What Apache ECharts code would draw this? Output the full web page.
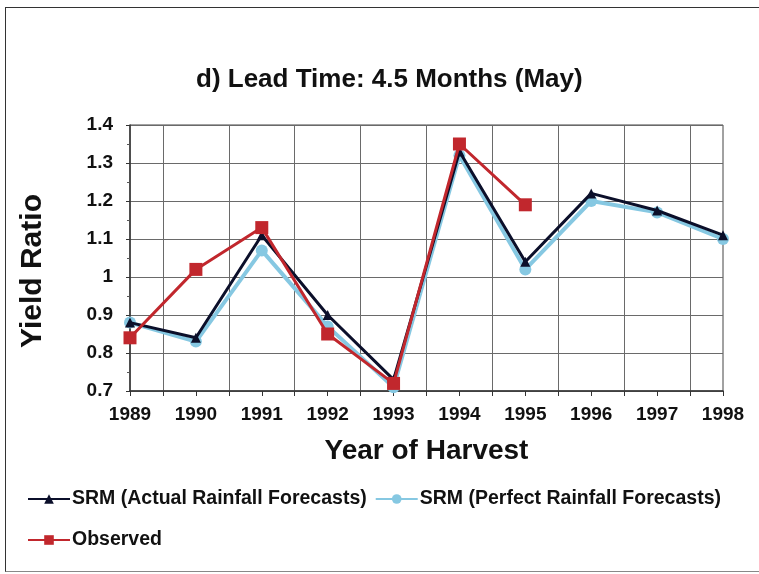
<!DOCTYPE html>
<html>
<head>
<meta charset="utf-8">
<script src="https://cdn.jsdelivr.net/npm/echarts@6/dist/echarts.min.js"></script>
<style>
  html, body { margin: 0; padding: 0; background: #fff; }
  #chart { width: 759px; height: 574px; }
  /* page frame: left, top and bottom rules only */
  #frame { position: absolute; left: 5px; top: 7px; width: 760px; height: 565px;
           border-left: 1px solid #333; border-top: 1px solid #333; border-bottom: 1px solid #888;
           box-sizing: border-box; pointer-events: none; }
</style>
</head>
<body>
<div id="chart"></div>
<div id="frame"></div>
<script>
// Harvest years and yield ratios
const years = [1989, 1990, 1991, 1992, 1993, 1994, 1995, 1996, 1997, 1998];
const srmActual = [0.88, 0.84, 1.11, 0.90, 0.73, 1.33, 1.04, 1.22, 1.175, 1.11];
const srmPerfect = [0.88, 0.83, 1.07, 0.87, 0.71, 1.32, 1.02, 1.20, 1.17, 1.10];
const observed = [0.84, 1.02, 1.13, 0.85, 0.72, 1.35, 1.19];
const yTicks = [0.7, 0.8, 0.9, 1, 1.1, 1.2, 1.3, 1.4];

const pairs = (xs, ys) => ys.map((v, i) => [xs[i], v]);
const font = 'Liberation Sans, Arial, sans-serif';
const legendText = { fontFamily: font, fontWeight: 'bold', fontSize: 19.5, color: '#111', padding: [0, 0, 0, -3] };

const chart = echarts.init(document.getElementById('chart'));
chart.setOption({
  backgroundColor: '#fff',
  animation: false,
  title: {
    text: 'd) Lead Time: 4.5 Months (May)',
    left: 191,
    top: 62,
    textStyle: { fontFamily: font, fontWeight: 'bold', fontSize: 26, color: '#111' }
  },
  grid: {
    left: 130, right: 36, top: 125, bottom: 183,
    show: true, borderColor: '#444', borderWidth: 1, backgroundColor: '#fff'
  },
  legend: [
    {
      left: 22, top: 484, itemWidth: 42, itemHeight: 12, itemGap: 8,
      data: ['SRM (Actual Rainfall Forecasts)', 'SRM (Perfect Rainfall Forecasts)'],
      textStyle: legendText
    },
    {
      left: 22, top: 525, itemWidth: 42, itemHeight: 12,
      data: ['Observed'],
      textStyle: legendText
    }
  ],
  xAxis: {
    type: 'value',
    min: 1989, max: 1998, interval: 1,
    name: 'Year of Harvest',
    nameLocation: 'middle',
    nameGap: 46,
    nameTextStyle: { fontFamily: font, fontWeight: 'bold', fontSize: 28, color: '#111' },
    axisLine: { show: true, lineStyle: { color: '#333', width: 1.5 } },
    axisTick: { show: true, length: 5, lineStyle: { color: '#333' } },
    minorTick: { show: true, splitNumber: 2, length: 5, lineStyle: { color: '#333' } },
    splitLine: { show: false },
    minorSplitLine: { show: true, lineStyle: { color: '#6a6a6a', width: 1 } },
    axisLabel: {
      margin: 14,
      fontFamily: font, fontWeight: 'bold', fontSize: 19, color: '#111',
      formatter: v => String(v)
    }
  },
  yAxis: {
    type: 'value',
    min: 0.7, max: 1.4, interval: 0.1,
    name: 'Yield Ratio',
    nameLocation: 'middle',
    nameGap: 82,
    nameTextStyle: { fontFamily: font, fontWeight: 'bold', fontSize: 30, color: '#111', padding: [0, 26, 0, 0] },
    axisLine: { show: true, lineStyle: { color: '#333', width: 1.5 } },
    axisTick: { show: true, length: 4, lineStyle: { color: '#333' } },
    minorTick: { show: true, splitNumber: 2, length: 3, lineStyle: { color: '#555' } },
    splitLine: { show: true, lineStyle: { color: '#6a6a6a', width: 1 } },
    axisLabel: {
      margin: 17,
      fontFamily: font, fontWeight: 'bold', fontSize: 19, color: '#111',
      formatter: v => {
        const t = yTicks.find(k => Math.abs(k - v) < 1e-6);
        return t === undefined ? '' : String(t);
      }
    }
  },
  series: [
    {
      name: 'SRM (Actual Rainfall Forecasts)',
      type: 'line',
      z: 3,
      data: pairs(years, srmActual),
      symbol: 'triangle', symbolSize: 10,
      lineStyle: { color: '#0b0f2a', width: 3 },
      itemStyle: { color: '#0b0f2a' }
    },
    {
      name: 'SRM (Perfect Rainfall Forecasts)',
      type: 'line',
      z: 2,
      data: pairs(years, srmPerfect),
      symbol: 'circle', symbolSize: 12,
      lineStyle: { color: '#86c8e2', width: 4 },
      itemStyle: { color: '#86c8e2' }
    },
    {
      name: 'Observed',
      type: 'line',
      z: 4,
      data: pairs(years, observed),
      symbol: 'rect', symbolSize: 13,
      lineStyle: { color: '#c1272d', width: 3 },
      itemStyle: { color: '#c1272d' }
    }
  ]
});
</script>
</body>
</html>
